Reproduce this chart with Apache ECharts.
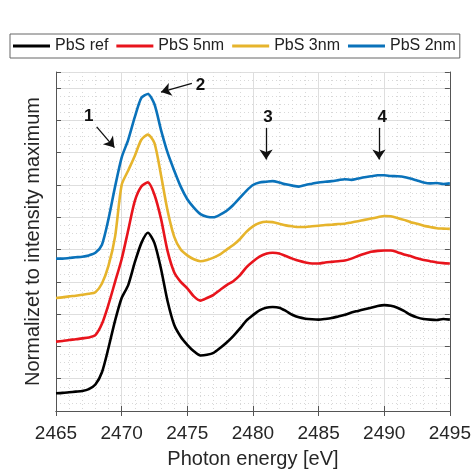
<!DOCTYPE html>
<html><head><meta charset="utf-8">
<script src="https://cdn.jsdelivr.net/npm/echarts@6/dist/echarts.min.js"></script>
<style>html,body{margin:0;padding:0;background:#fff}#c{width:474px;height:474px}</style>
</head><body><div id="c"></div>
<script>
// Photon energy (eV), 0.5 eV steps
const energy = [];
for (let i = 0; i <= 60; i++) energy.push(2465 + i * 0.5);

const seriesNames = ['PbS ref', 'PbS 5nm', 'PbS 3nm', 'PbS 2nm'];

const pbsRef = [0.55,0.56,0.58,0.60,0.62,0.68,0.82,1.20,1.96,2.80,3.50,3.90,4.60,5.20,5.52,5.20,4.40,3.40,2.67,2.30,2.05,1.85,1.72,1.74,1.80,1.95,2.12,2.32,2.55,2.80,2.97,3.12,3.20,3.22,3.20,3.10,2.98,2.90,2.86,2.84,2.83,2.85,2.88,2.93,2.98,3.05,3.10,3.15,3.20,3.25,3.28,3.26,3.20,3.10,2.98,2.90,2.85,2.83,2.82,2.85,2.83];
const pbs5nm = [2.15,2.17,2.20,2.22,2.25,2.28,2.35,2.70,3.30,4.00,4.70,5.60,6.50,6.95,7.08,6.70,5.95,4.95,4.30,4.00,3.80,3.55,3.42,3.50,3.60,3.75,3.90,4.02,4.20,4.45,4.63,4.78,4.87,4.90,4.88,4.80,4.72,4.65,4.60,4.57,4.57,4.60,4.62,4.64,4.66,4.72,4.80,4.87,4.93,4.96,4.97,4.97,4.92,4.85,4.80,4.73,4.68,4.64,4.60,4.58,4.57];
const pbs3nm = [3.50,3.52,3.55,3.57,3.60,3.63,3.68,3.95,4.50,5.40,7.00,7.45,7.90,8.40,8.56,8.30,7.30,6.20,5.40,5.00,4.82,4.70,4.64,4.68,4.75,4.85,5.00,5.14,5.32,5.55,5.72,5.82,5.86,5.85,5.80,5.75,5.72,5.70,5.70,5.72,5.74,5.76,5.77,5.79,5.80,5.84,5.88,5.92,5.96,6.00,6.04,6.03,5.98,5.92,5.85,5.80,5.74,5.70,5.66,5.65,5.64];
const pbs2nm = [4.72,4.72,4.74,4.76,4.78,4.82,4.90,5.15,5.95,6.95,7.85,8.40,9.10,9.70,9.82,9.50,8.70,8.00,7.45,6.95,6.56,6.30,6.10,6.02,6.00,6.08,6.20,6.38,6.60,6.82,7.00,7.08,7.10,7.12,7.08,7.02,6.98,6.95,7.00,7.04,7.08,7.10,7.12,7.15,7.18,7.16,7.20,7.24,7.27,7.30,7.30,7.28,7.27,7.25,7.20,7.14,7.08,7.05,7.06,7.03,7.05];

const xTicks = [2465, 2470, 2475, 2480, 2485, 2490, 2495];

// annotations (data coordinates): label, label position, arrow start, arrow end
const noteLabels = ['1', '2', '3', '4'];
const noteTextPos = [[2467.5, 9.14], [2476.0, 10.09], [2481.15, 9.11], [2489.85, 9.11]];
const arrowFrom = [[2468.1, 8.8], [2475.35, 10.15], [2481.0, 8.77], [2489.6, 8.77]];
const arrowTo = [[2469.45, 8.16], [2473.0, 9.88], [2481.0, 7.79], [2489.6, 7.79]];

const colors = ['#000000', '#e8141c', '#e6b42c', '#0a72ba'];
const values = [pbsRef, pbs5nm, pbs3nm, pbs2nm];

const chart = echarts.init(document.getElementById('c'), null, {renderer: 'canvas'});
const axisColor = '#555';
const font = 'Liberation Sans, Arial, sans-serif';

const series = values.map((v, i) => ({
  name: seriesNames[i],
  type: 'line',
  data: energy.map((x, k) => [x, v[k]]),
  symbol: 'none',
  smooth: 0.25,
  lineStyle: {color: colors[i], width: 2.6},
  itemStyle: {color: colors[i]},
  z: 3 + i
}));

series.push({
  type: 'line', name: 'notes', data: [], symbol: 'none', silent: true,
  markLine: {
    silent: true, animation: false,
    symbol: ['none', 'arrow'], symbolSize: 10,
    lineStyle: {color: '#111', width: 1.3, type: 'solid'},
    label: {show: false},
    data: arrowFrom.map((f, i) => [{coord: f}, {coord: arrowTo[i]}])
  },
  markPoint: {
    silent: true, animation: false,
    symbol: 'circle', symbolSize: 0,
    label: {show: true, color: '#111', fontSize: 17, fontWeight: 'bold', fontFamily: font, position: 'inside', formatter: p => p.name},
    data: noteLabels.map((t, i) => ({name: t, coord: noteTextPos[i]}))
  }
});

chart.setOption({
  animation: false,
  backgroundColor: '#fff',
  legend: {
    data: seriesNames,
    left: 10, top: 34, width: 470,
    orient: 'horizontal',
    icon: 'rect', itemWidth: 37, itemHeight: 3, itemGap: 8,
    borderColor: '#666', borderWidth: 1, padding: [3, 4, 3, 3],
    textStyle: {fontSize: 16, color: '#222', fontFamily: font, lineHeight: 18}
  },
  grid: {left: 56, right: 21, top: 72, bottom: 60},
  xAxis: [{
    type: 'value', min: 2465, max: 2495, interval: 5,
    name: 'Photon energy [eV]', nameLocation: 'middle', nameGap: 38,
    nameTextStyle: {fontSize: 20, color: '#262626', fontFamily: font},
    axisLine: {show: true, lineStyle: {color: axisColor, width: 1}},
    axisTick: {show: true, inside: true, length: 5, lineStyle: {color: axisColor}},
    axisLabel: {fontSize: 19, color: '#262626', fontFamily: font, margin: 13, formatter: v => String(v)},
    splitLine: {show: true, lineStyle: {color: '#dedede', width: 1}},
    minorTick: {show: false, splitNumber: 5},
    minorSplitLine: {show: true, lineStyle: {color: '#d8d8d8', type: [1, 3], width: 1}}
  }, {
    type: 'value', position: 'top', min: 2465, max: 2495, interval: 5,
    axisLine: {show: true, lineStyle: {color: axisColor, width: 1}},
    axisTick: {show: true, inside: true, length: 5, lineStyle: {color: axisColor}},
    axisLabel: {show: false}, splitLine: {show: false}
  }],
  yAxis: [{
    type: 'value', min: 0, max: 10.5, interval: 1,
    name: 'Normalizet to intensity maximum', nameLocation: 'middle', nameGap: 13,
    nameTextStyle: {fontSize: 20, color: '#262626', fontFamily: font},
    axisLine: {show: true, lineStyle: {color: axisColor, width: 1}},
    axisTick: {show: true, inside: true, length: 5, lineStyle: {color: axisColor}},
    axisLabel: {show: false},
    splitLine: {show: true, lineStyle: {color: '#dedede', width: 1}},
    minorTick: {show: false, splitNumber: 4},
    minorSplitLine: {show: true, lineStyle: {color: '#d8d8d8', type: [1, 3], width: 1}}
  }, {
    type: 'value', position: 'right', min: 0, max: 10.5, interval: 1,
    axisLine: {show: true, lineStyle: {color: axisColor, width: 1}},
    axisTick: {show: true, inside: true, length: 5, lineStyle: {color: axisColor}},
    axisLabel: {show: false}, splitLine: {show: false}
  }],
  series: series
});
</script>
</body></html>
